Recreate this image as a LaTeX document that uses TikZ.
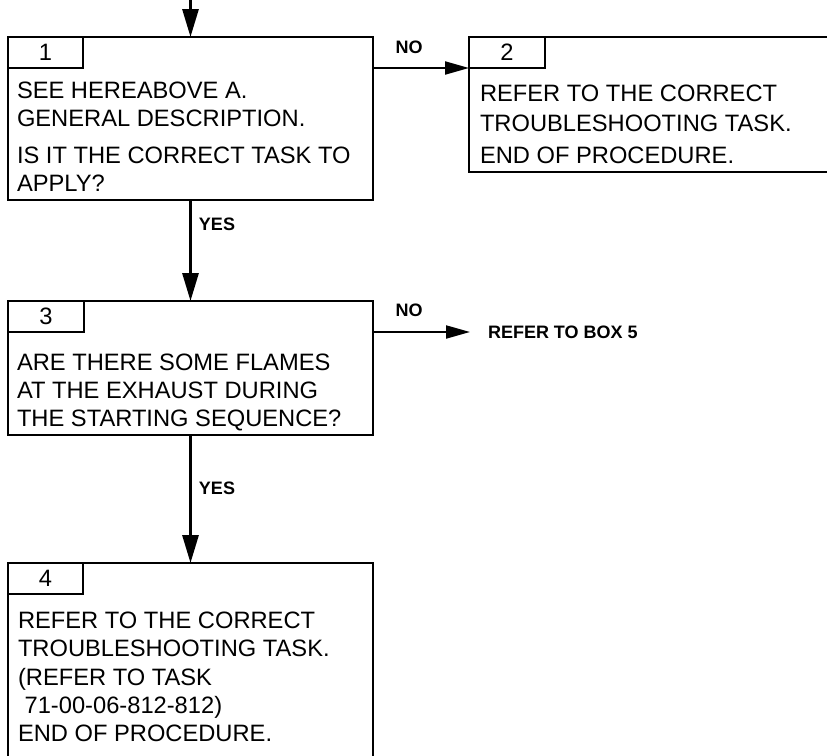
\documentclass[tikz,border=0pt]{standalone}
\usepackage{fontspec}
\setmainfont{Liberation Sans}
\usetikzlibrary{arrows.meta}
\tikzset{
  boxshape/.style={draw, line width=2.2pt, rectangle, inner sep=0pt, outer sep=0pt, anchor=north west},
  tabshape/.style={draw, line width=1.7pt, rectangle, inner sep=0pt, outer sep=0pt, anchor=north west,
    minimum height=31pt, font=\fontsize{23.7}{28}\selectfont},
  body/.style={anchor=base west, inner sep=0pt, outer sep=0pt, font=\fontsize{23.7}{28}\selectfont},
  lbl/.style={inner sep=0pt, outer sep=0pt, font=\fontsize{18}{20}\selectfont\bfseries},
  varr/.style={line width=3pt, -{Triangle[length=28pt,width=16pt]}},
  harr/.style={line width=2pt, -{Triangle[length=24pt,width=13pt]}},
}
\begin{document}
\begin{tikzpicture}[x=1pt,y=-1pt]
\useasboundingbox (0,0) rectangle (827,755);
\clip (0,0) rectangle (827,755);
% boxes
\node[boxshape, minimum width=365pt, minimum height=163pt] (b1) at (8,37) {};
\node[boxshape, minimum width=400pt, minimum height=135pt] (b2) at (469,37) {};
\node[boxshape, minimum width=365pt, minimum height=134pt] (b3) at (8,301) {};
\node[boxshape, minimum width=365pt, minimum height=220pt] (b4) at (8,563) {};
% number tabs
\node[tabshape, minimum width=75pt] (t1) at (b1.north west) {1};
\node[tabshape, minimum width=76pt] (t2) at (b2.north west) {2};
\node[tabshape, minimum width=76pt] (t3) at (b3.north west) {3};
\node[tabshape, minimum width=75pt] (t4) at (b4.north west) {4};
% box texts
\node[body] (t1a) at (17,98) {SEE HEREABOVE A.};
\node[body] (t1b) at (17,126.5) {GENERAL DESCRIPTION.};
\node[body] (t1c) at (17,163) {IS IT THE CORRECT TASK TO};
\node[body] (t1d) at (17,191.5) {APPLY?};
\node[body] (t2a) at (480,101.7) {REFER TO THE CORRECT};
\node[body] (t2b) at (480,131.5) {TROUBLESHOOTING TASK.};
\node[body] (t2c) at (480,163.3) {END OF PROCEDURE.};
\node[body] (t3a) at (17,370) {ARE THERE SOME FLAMES};
\node[body] (t3b) at (17,398.3) {AT THE EXHAUST DURING};
\node[body] (t3c) at (17,426.5) {THE STARTING SEQUENCE?};
\node[body] (t4a) at (18,628.3) {REFER TO THE CORRECT};
\node[body] (t4b) at (18,656.7) {TROUBLESHOOTING TASK.};
\node[body] (t4c) at (18,685) {(REFER TO TASK};
\node[body] (t4d) at (18,713.3) {\ 71-00-06-812-812)};
\node[body] (t4e) at (18,741.7) {END OF PROCEDURE.};
% labels
\node[lbl] (no1) at (409,47) {NO};
\node[lbl] (no3) at (409,310) {NO};
\node[lbl] (yes1) at (217,224) {YES};
\node[lbl] (yes3) at (217,488) {YES};
\node[lbl, anchor=west, inner xsep=18pt] (r5) at (470,332) {REFER TO BOX 5};
% connectors
\coordinate (start) at (b1.north |- 0,0);
\draw[varr] (start) -- (b1.north);
\draw[varr] (b1.south) -- (b3.north);
\draw[varr] (b3.south) -- (b4.north);
\draw[harr] (b1.east |- t2.south west) -- (t2.south west);
\draw[harr] (b3.east |- r5.west) -- (r5.west);
\end{tikzpicture}
\end{document}
